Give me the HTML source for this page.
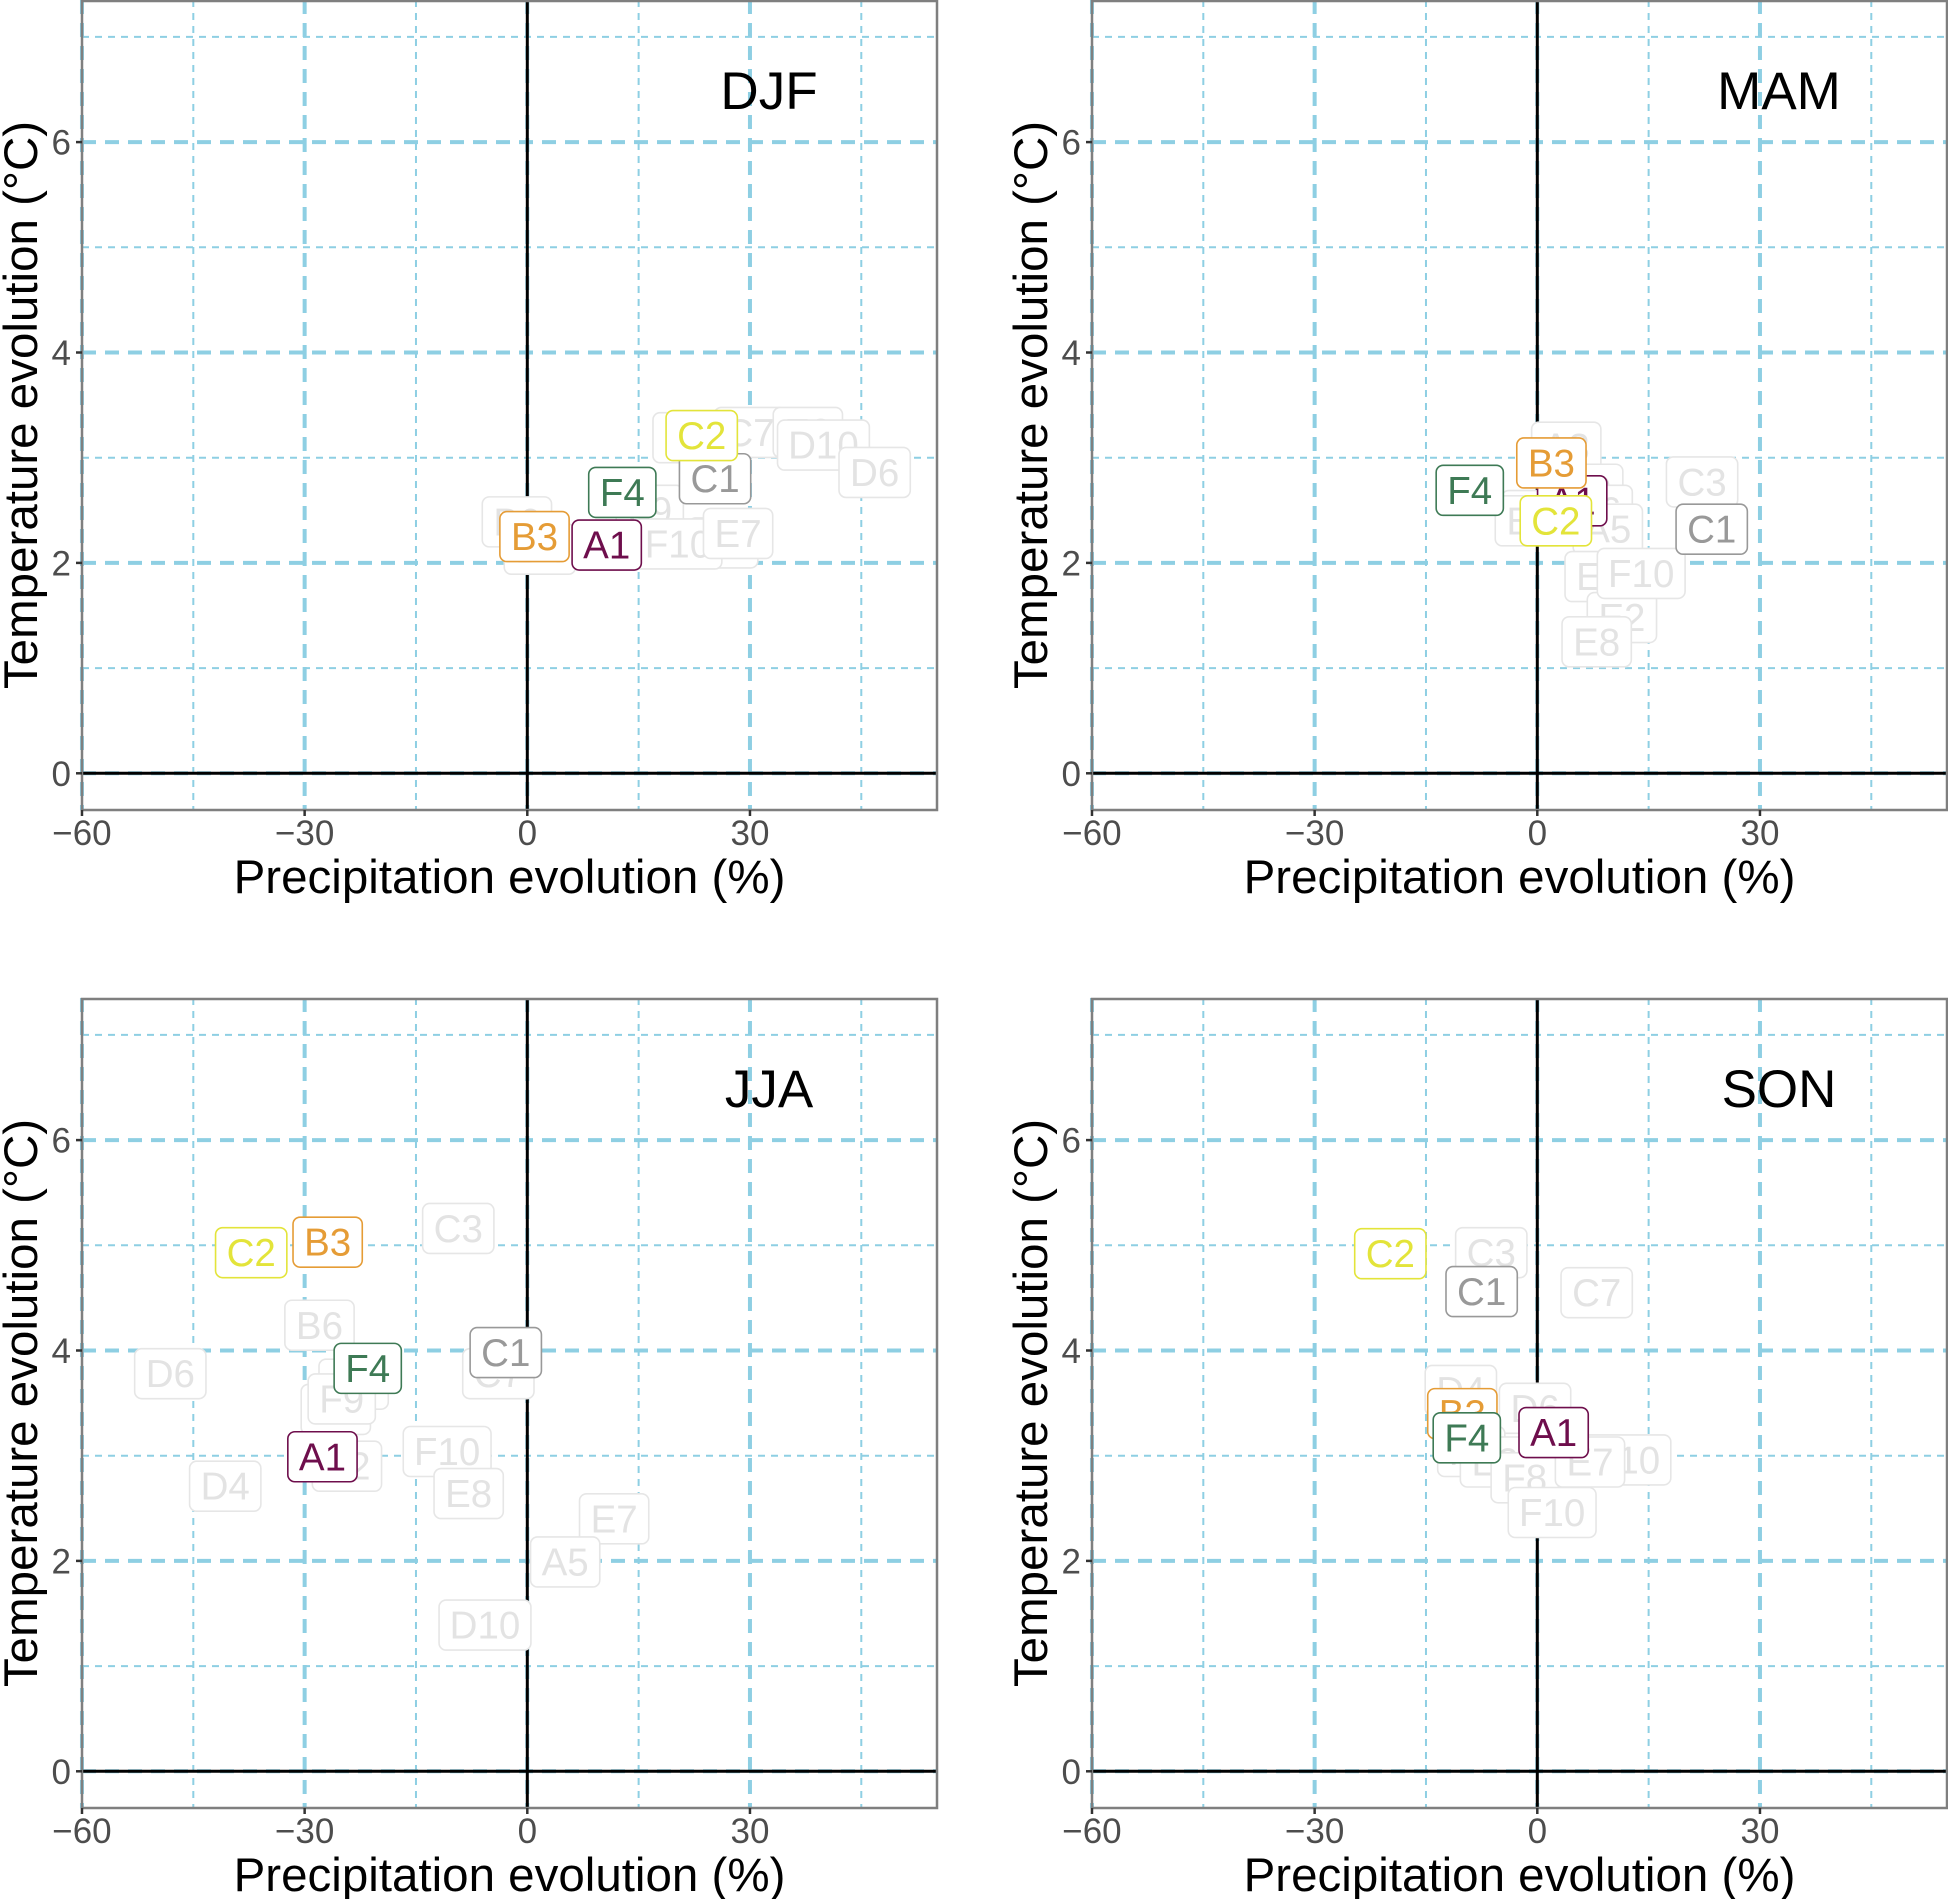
<!DOCTYPE html>
<html><head><meta charset="utf-8">
<style>
html,body{margin:0;padding:0;background:#fff;}
svg{display:block;font-family:"Liberation Sans",Arial,sans-serif;}
</style></head>
<body>
<svg id="chart" width="1948" height="1899" viewBox="0 0 1948 1899" xmlns="http://www.w3.org/2000/svg"></svg>
<script>
const seasons = ["DJF", "MAM", "JJA", "SON"];
const djfNames = ["D4","B6","F9","A5","F10","E7","B8","C7","E2","D10","D6","C1","F4","A1","B3","C2"];
const djfX     = [1.7,-1.4,16.5,26.4,20.3,28.4,21.6,30.0,37.8,39.9,46.8,25.3,12.8,10.7,0.97,23.5];
const djfY     = [2.13,2.39,2.5,2.19,2.18,2.28,3.19,3.24,3.24,3.12,2.86,2.80,2.67,2.17,2.25,3.21];
const mamNames = ["A3","D4","B6","F9","D6","A5","E1","E2","E8","F10","C3","A1","F4","B3","C2","C1"];
const mamX     = [3.9,0.0,-1.0,7.0,8.0,9.5,8.4,11.4,8.0,14.0,22.2,4.7,-9.1,1.9,2.5,23.5];
const mamY     = [3.10,2.45,2.40,2.70,2.50,2.32,1.87,1.48,1.25,1.90,2.77,2.59,2.69,2.95,2.40,2.32];
const jjaNames = ["C3","B6","D6","A3","E1","F9","E2","C7","F10","D4","E8","E7","A5","D10","C2","B3","F4","A1","C1"];
const jjaX     = [-9.3,-28.0,-48.1,-23.4,-25.8,-25.0,-24.3,-3.9,-10.8,-40.7,-7.9,11.7,5.1,-5.7,-37.2,-26.9,-21.5,-27.6,-2.9];
const jjaY     = [5.16,4.24,3.78,3.68,3.44,3.54,2.90,3.78,3.04,2.71,2.64,2.40,1.99,1.39,4.93,5.03,3.83,2.99,3.98];
const sonNames = ["C3","C7","D4","D6","F9","E2","F8","D10","E7","F10","A1","B3","F4","C1","C2"];
const sonX     = [-6.2,8.0,-10.3,-0.3,-8.9,-5.7,-1.7,11.8,7.1,2.0,2.2,-10.1,-9.5,-7.5,-19.8];
const sonY     = [4.93,4.55,3.62,3.45,3.04,2.94,2.79,2.96,2.94,2.46,3.22,3.40,3.17,4.56,4.92];
const xTicks = [-60,-30,0,30];
const xTickLabels = ["\u221260","\u221230","0","30"];
const xMinor = [-45,-15,15,45];
const yTicks = [0,2,4,6];
const yTickLabels = ["0","2","4","6"];
const yMinor = [1,3,5,7];
const highlightColors = {A1:"#6E0E4C",B3:"#E59C36",C1:"#999999",C2:"#E3E43A",F4:"#3E7A55"};
const seasonData = [[djfNames,djfX,djfY],[mamNames,mamX,mamY],[jjaNames,jjaX,jjaY],[sonNames,sonX,sonY]];
const offsets = [[0,0],[1010,0],[0,998],[1010,998]];

const NS = "http://www.w3.org/2000/svg";
const svg = document.getElementById("chart");
function mk(tag, attrs, parent){
  const e = document.createElementNS(NS, tag);
  for (const k in attrs) e.setAttribute(k, attrs[k]);
  parent.appendChild(e);
  return e;
}
const X0 = 82, X1 = 937, Y0 = 0, Y1 = 810;
function xs(v){ return 527.3 + 7.422 * v; }
function ys(v){ return 773.3 - 105.2 * v; }
function tw(s){
  const w = {A:.667,B:.667,C:.722,D:.722,E:.667,F:.611,"0":.556,"1":.556,"2":.556,"3":.556,"4":.556,"5":.556,"6":.556,"7":.556,"8":.556,"9":.556};
  let t = 0; for (const c of s) t += (w[c] || .6); return t;
}
const order = ["A1","B3","F4","C1","C2"];

seasons.forEach((season, si) => {
  const [ox, oy] = offsets[si];
  const g = mk("g", {transform:`translate(${ox},${oy})`}, svg);
  
  
  xMinor.forEach(v => {
    const l = mk("line", {x1:xs(v),x2:xs(v),y1:Y0,y2:Y1,stroke:"#8ECFE3","stroke-width":2,"stroke-dasharray":"7,6"}, g);
    
    
  });
  yMinor.forEach(v => {
    const l = mk("line", {x1:X0,x2:X1,y1:ys(v),y2:ys(v),stroke:"#8ECFE3","stroke-width":2,"stroke-dasharray":"7,6"}, g);
    
    
  });
  xTicks.forEach(v => {
    const l = mk("line", {x1:xs(v),x2:xs(v),y1:Y0,y2:Y1,stroke:"#8ECFE3","stroke-width":4,"stroke-dasharray":"14,9"}, g);
    
    
  });
  yTicks.forEach(v => {
    const l = mk("line", {x1:X0,x2:X1,y1:ys(v),y2:ys(v),stroke:"#8ECFE3","stroke-width":4,"stroke-dasharray":"14,9"}, g);
    
    
  });
  const zx = mk("line", {x1:xs(0),x2:xs(0),y1:Y0,y2:Y1,stroke:"#000","stroke-width":3}, g);
  
  
  const zy = mk("line", {x1:X0,x2:X1,y1:ys(0),y2:ys(0),stroke:"#000","stroke-width":3}, g);
  
  
  const names = seasonData[si][0], xv = seasonData[si][1], yv = seasonData[si][2];
  const idx = names.map((n,i)=>i);
  idx.sort((a,b)=>{
    const ra = order.indexOf(names[a]), rb = order.indexOf(names[b]);
    return (ra<0?-1:ra) - (rb<0?-1:rb);
  });
  idx.forEach(i => {
    const n = names[i];
    const col = highlightColors[n];
    const cx = xs(xv[i]), cy = ys(yv[i]);
    const w = tw(n)*37 + 24, h = 50;
    const lg = mk("g", {}, g);
    
    
    mk("rect", {x:cx-w/2,y:cy-h/2,width:w,height:h,rx:7,ry:7,fill:"#fff",stroke:col||"#E6E6E6","stroke-width":1.6}, lg);
    const t = mk("text", {x:cx,y:cy+13.5,"text-anchor":"middle","font-size":38.5,fill:col||"#E3E3E3"}, lg);
    t.textContent = n;
  });
  const b = mk("rect", {x:X0,y:Y0+1,width:X1-X0,height:Y1-Y0-1,fill:"none",stroke:"#7F7F7F","stroke-width":2.5}, g);
  
  
  xTicks.forEach((v,i) => {
    const tk = mk("line", {x1:xs(v),x2:xs(v),y1:Y1,y2:Y1+6,stroke:"#333","stroke-width":2.5}, g);
    
    
    const tl = mk("text", {x:xs(v),y:845,"text-anchor":"middle","font-size":35,fill:"#4D4D4D"}, g);
    
    
    tl.textContent = xTickLabels[i];
  });
  yTicks.forEach((v,i) => {
    const tk = mk("line", {x1:X0-6,x2:X0,y1:ys(v),y2:ys(v),stroke:"#333","stroke-width":2.5}, g);
    
    
    const tl = mk("text", {x:X0-11,y:ys(v)+12.5,"text-anchor":"end","font-size":35,fill:"#4D4D4D"}, g);
    
    
    tl.textContent = yTickLabels[i];
  });
  const xt = mk("text", {x:509.5,y:893,"text-anchor":"middle","font-size":47.5,fill:"#000"}, g);
  
  
  xt.textContent = "Precipitation evolution (%)";
  const yt = mk("text", {x:0,y:0,"text-anchor":"middle","font-size":47.5,fill:"#000",transform:"translate(37,405) rotate(-90)"}, g);
  
  
  yt.textContent = "Temperature evolution (\u00B0C)";
  const st = mk("text", {x:769,y:109,"text-anchor":"middle","font-size":53,fill:"#000"}, g);
  
  
  st.textContent = season;
});
</script>
</body></html>
